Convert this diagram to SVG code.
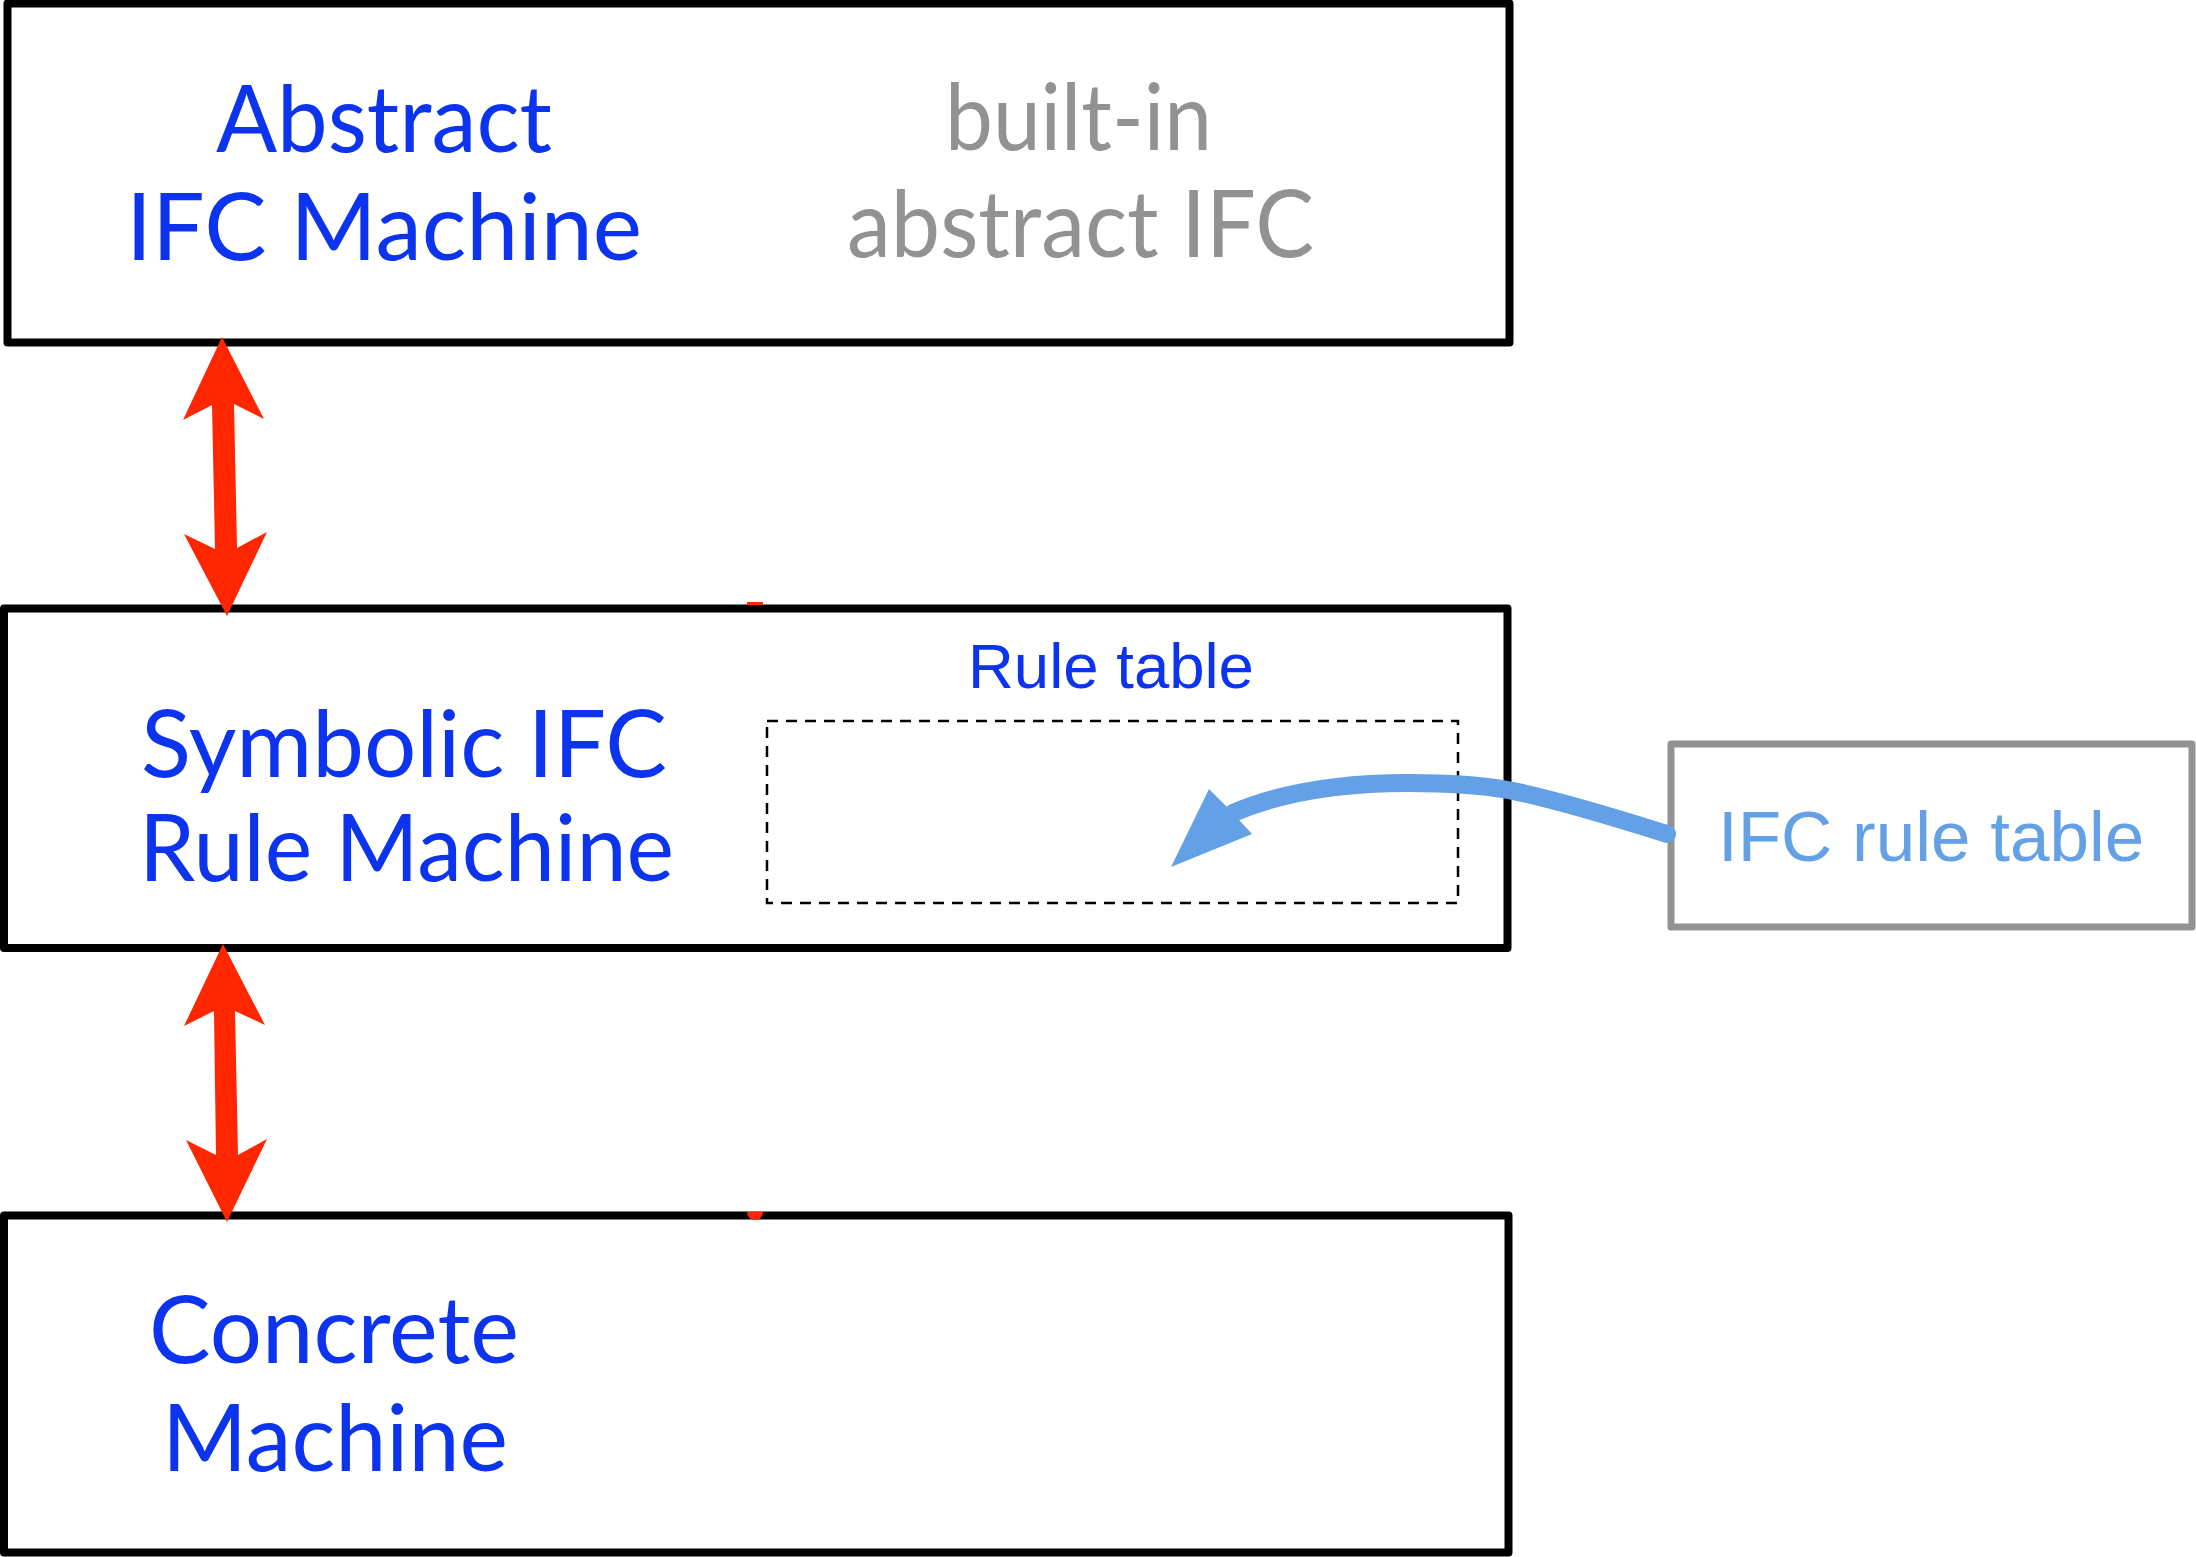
<svg xmlns="http://www.w3.org/2000/svg" width="2196" height="1557" viewBox="0 0 2196 1557">
  <style>
    .box { fill: #ffffff; stroke: #000000; stroke-width: 8; stroke-linejoin: round; }
    .ext { fill: #ffffff; stroke: #929292; stroke-width: 7; stroke-linejoin: round; }
    .dash { fill: none; stroke: #000000; stroke-width: 2.5; stroke-dasharray: 11 8; }
    .gill { font-family: Lato, "Open Sans", "DejaVu Sans", sans-serif; font-size: 94px; }
    .helv { font-family: "Liberation Sans", Arial, sans-serif; }
    .dblue { fill: #0c33ee; }
    .gray { fill: #929292; }
    .lblue { fill: #63a0e6; }
    .red { fill: #ff2600; }
    .flow { fill: none; stroke: #63a0e6; stroke-width: 18; stroke-linecap: round; }
  </style>
  <rect width="2196" height="1557" fill="#ffffff"/>

  <g id="abstract-machine">
    <rect class="box" x="7.5" y="3.5" width="1502" height="339"/>
    <text class="gill dblue" x="216" y="152" textLength="336" lengthAdjust="spacingAndGlyphs">Abstract</text>
    <text class="gill dblue" x="126" y="260" textLength="516" lengthAdjust="spacingAndGlyphs">IFC Machine</text>
    <text class="gill gray" x="945" y="150" textLength="267" lengthAdjust="spacingAndGlyphs">built-in</text>
    <text class="gill gray" x="847" y="257" textLength="467" lengthAdjust="spacingAndGlyphs">abstract IFC</text>
  </g>

  <g id="symbolic-machine">
    <rect class="box" x="4" y="608.5" width="1503.5" height="339.5"/>
    <text class="gill dblue" x="141" y="777" textLength="526" lengthAdjust="spacingAndGlyphs">Symbolic IFC</text>
    <text class="gill dblue" x="139" y="881" textLength="535" lengthAdjust="spacingAndGlyphs">Rule Machine</text>
  </g>

  <g id="rule-table">
    <rect class="dash" x="767" y="721" width="691" height="182"/>
    <text class="helv dblue" x="968" y="688" font-size="63.5">Rule table</text>
  </g>

  <g id="concrete-machine">
    <rect class="box" x="4" y="1215.5" width="1504.5" height="337"/>
    <text class="gill dblue" x="149" y="1363" textLength="370" lengthAdjust="spacingAndGlyphs">Concrete</text>
    <text class="gill dblue" x="162" y="1471" textLength="346" lengthAdjust="spacingAndGlyphs">Machine</text>
  </g>

  <g id="ifc-rule-table">
    <rect class="ext" x="1671" y="744" width="521" height="183"/>
    <text class="helv lblue" x="1718" y="861" font-size="71">IFC rule table</text>
  </g>

  <g id="connectors">
    <polygon class="red" points="222,337 264,419 234,404 237,548 267,532 227,616 184,534 215,549 212,405 183,420"/>
    <polygon class="red" points="223,944 265,1025 235,1011 238,1155 267,1139 227,1222 186,1140 216,1155 214,1011 184,1026"/>
    <path class="flow" d="M1667,834 C1610,816 1550,798 1508,790 C1475,784 1440,783 1408,783 C1330,783 1275,795 1233,813"/>
    <polygon fill="#63a0e6" points="1171,867 1209,789 1226,806 1240,821 1252,834"/>
    <rect class="red" x="747" y="602" width="16" height="3"/>
    <path class="red" d="M747,1212 A8,8 0 0 0 763,1212 Z"/>
  </g>
</svg>
